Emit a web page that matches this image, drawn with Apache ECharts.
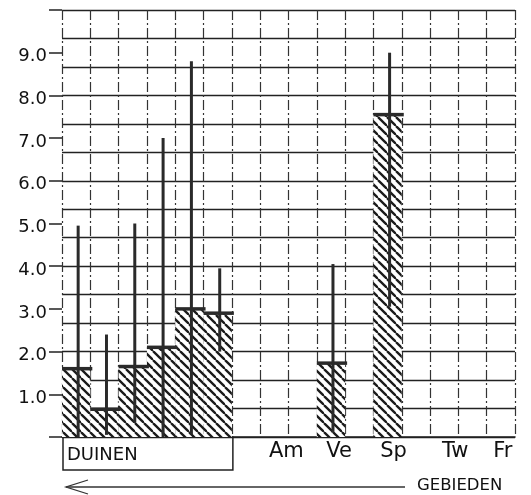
<!DOCTYPE html>
<html>
<head>
<meta charset="utf-8">
<script src="https://cdn.jsdelivr.net/npm/echarts@6/dist/echarts.min.js"></script>
<style>
html,body,#main { margin: 0; padding: 0; width: 531px; height: 495px; background: #fff; }
</style>
</head>
<body>
<div id="main"></div>
<script>
// 16 columns of the graph paper; first six are the DUINEN sites
var categories = ['', '', '', '', '', '', '', 'Am', '', 'Ve', '', 'Sp', '', 'Tw', '', 'Fr'];
var labelShift = [0, 0, 0, 0, 0, 0, 0, 24, 0, 16, 0, 12, 0, 22, 0, 4];
var means = [1.6, 0.65, 1.65, 2.1, 3.0, 2.9, '-', '-', '-', 1.73, '-', 7.55, '-', '-', '-', '-'];
var lows  = [0, 0.05, 0.33, 0, 0.05, 2.0, '-', '-', '-', 0.1, '-', 3.05, '-', '-', '-', '-'];
var highs = [4.95, 2.4, 5.0, 7.0, 8.8, 3.95, '-', '-', '-', 4.05, '-', 9.0, '-', '-', '-', '-'];
var groupName = 'DUINEN';
var groupCols = [0, 5];
var axisName = 'GEBIEDEN';

function hatch() {
    var c = document.createElement('canvas');
    c.width = 9; c.height = 9;
    var g = c.getContext('2d');
    g.fillStyle = '#fff';
    g.fillRect(0, 0, 9, 9);
    g.strokeStyle = '#1a1a1a';
    g.lineWidth = 2.3;
    [-9, 0, 9].forEach(function (o) {
        g.beginPath(); g.moveTo(o, 0); g.lineTo(o + 9, 9); g.stroke();
    });
    return c;
}

var errData = [];
means.forEach(function (m, i) {
    if (m !== '-') errData.push([i, m, lows[i], highs[i]]);
});

var font = 'DejaVu Sans';
var ink = '#222';

var chart = echarts.init(document.getElementById('main'));
chart.setOption({
    animation: false,
    backgroundColor: '#fff',
    grid: { left: 62, right: 16, top: 10, bottom: 58 },
    xAxis: {
        type: 'category',
        boundaryGap: true,
        data: categories.map(function (c, i) {
            return { value: c, textStyle: { padding: [0, 0, 0, labelShift[i]] } };
        }),
        axisLine: { lineStyle: { color: ink, width: 1.6 } },
        axisTick: { show: false },
        axisLabel: { interval: 0, fontFamily: font, fontSize: 21, color: '#111', margin: 4 },
        splitLine: { show: true, lineStyle: { color: '#333', width: 1.2, type: [10, 3, 2, 3] } }
    },
    yAxis: [{
        type: 'value',
        min: 0, max: 10, interval: 1,
        axisLine: { show: false },
        axisTick: { show: true, length: 13, lineStyle: { color: ink, width: 1.5 } },
        axisLabel: {
            fontFamily: font, fontSize: 18, color: '#111', margin: 15,
            verticalAlign: 'top', padding: [-5, 0, 0, 0],
            formatter: function (v) { return (v === 0 || v === 10) ? '' : v.toFixed(1); }
        },
        splitLine: { show: false }
    }, {
        type: 'value',
        min: 0, max: 15, interval: 1,
        position: 'right',
        axisLine: { show: false },
        axisTick: { show: false },
        axisLabel: { show: false },
        splitLine: { show: true, lineStyle: { color: ink, width: 1.3 } }
    }],
    series: [{
        type: 'bar',
        yAxisIndex: 0,
        data: means,
        barCategoryGap: 0,
        itemStyle: { color: { image: hatch(), repeat: 'repeat' } },
        z: 3
    }, {
        type: 'custom',
        yAxisIndex: 0,
        data: errData,
        z: 5,
        renderItem: function (params, api) {
            var x = api.value(0);
            var mid = api.coord([x, api.value(1)]);
            var lo = api.coord([x, api.value(2)]);
            var hi = api.coord([x, api.value(3)]);
            var w = api.size([1, 0])[0];
            var cx = mid[0] + 2;
            return {
                type: 'group',
                children: [
                    { type: 'line', shape: { x1: cx, y1: hi[1], x2: cx, y2: lo[1] },
                      style: { stroke: '#2a2a2a', lineWidth: 3 } },
                    { type: 'line', shape: { x1: mid[0] - w / 2, y1: mid[1], x2: mid[0] + w / 2 + 2, y2: mid[1] },
                      style: { stroke: '#2a2a2a', lineWidth: 3.5 } }
                ]
            };
        }
    }]
});

// group box under the DUINEN columns, arrow and axis name
var y0 = chart.convertToPixel({ yAxisIndex: 0 }, 0);
var xa = chart.convertToPixel({ xAxisIndex: 0 }, groupCols[0]);
var xb = chart.convertToPixel({ xAxisIndex: 0 }, groupCols[1]);
var cw = (xb - xa) / (groupCols[1] - groupCols[0]);
chart.setOption({
    graphic: [{
        type: 'rect',
        shape: { x: xa - cw / 2 + 1, y: y0, width: xb - xa + cw, height: 33 },
        style: { fill: 'none', stroke: ink, lineWidth: 1.5 }
    }, {
        type: 'text',
        x: xa - cw / 2 + 5, y: y0 + 18,
        style: { text: groupName, fontFamily: font, fontSize: 18, fill: '#111', verticalAlign: 'middle' }
    }, {
        type: 'line',
        shape: { x1: 66, y1: 487, x2: 405, y2: 487 },
        style: { stroke: '#333', lineWidth: 1.3 }
    }, {
        type: 'polyline',
        shape: { points: [[88, 480], [66, 487], [88, 494]] },
        style: { stroke: '#333', lineWidth: 1.3, fill: 'none' }
    }, {
        type: 'text',
        x: 417, y: 486,
        style: { text: axisName, fontFamily: font, fontSize: 16.5, fill: '#111', verticalAlign: 'middle' }
    }]
});
</script>
</body>
</html>
